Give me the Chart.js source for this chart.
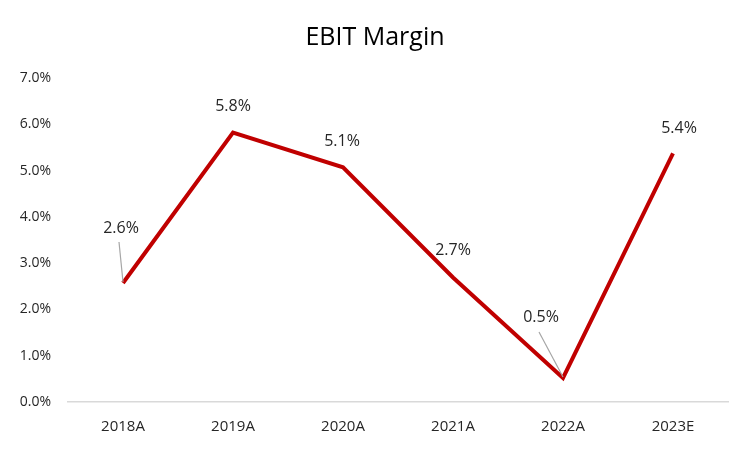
<!DOCTYPE html>
<html>
<head>
<meta charset="utf-8">
<script src="https://cdn.jsdelivr.net/npm/chart.js@4/dist/chart.umd.min.js"></script>
<style>
  body { margin: 0; background: #fff; }
  #wrap { width: 750px; height: 450px; }
</style>
</head>
<body>
<div id="wrap"><canvas id="chart" width="750" height="450"></canvas></div>
<script>
var years = ['2018A', '2019A', '2020A', '2021A', '2022A', '2023E'];
var margins = [0.0257, 0.0582, 0.0507, 0.0269, 0.0052, 0.0537];
var marginLabels = ['2.6%', '5.8%', '5.1%', '2.7%', '0.5%', '5.4%'];
var yTicks = [0, 0.01, 0.02, 0.03, 0.04, 0.05, 0.06, 0.07];

// label placement relative to each point (px), and whether to draw a leader line
var labelShift = [[-2, -55, true], [0, -26, false], [-1, -26, false], [0, -27, false], [-22, -60, true], [6, -25, false]];

var font = '"Open Sans", sans-serif';

var pointLabels = {
  id: 'pointLabels',
  afterDatasetsDraw: function(chart) {
    var ctx = chart.ctx;
    var meta = chart.getDatasetMeta(0);
    ctx.save();
    meta.data.forEach(function(pt, i) {
      var s = labelShift[i];
      var lx = pt.x + s[0], ly = pt.y + s[1];
      if (s[2]) {
        ctx.strokeStyle = '#a6a6a6';
        ctx.lineWidth = 1.2;
        ctx.beginPath();
        ctx.moveTo(lx - 2, ly + 14);
        ctx.lineTo(pt.x, pt.y - 1);
        ctx.stroke();
      }
      ctx.fillStyle = '#262626';
      ctx.font = '16px ' + font;
      ctx.textAlign = 'center';
      ctx.textBaseline = 'middle';
      ctx.fillText(marginLabels[i], lx, ly);
    });
    ctx.restore();
  }
};

var ctx = document.getElementById('chart');
var myChart = new Chart(ctx, {
  type: 'line',
  data: {
    labels: years,
    datasets: [{
      label: 'EBIT Margin',
      data: margins,
      borderColor: '#c00000',
      borderWidth: 4,
      pointRadius: 0,
      tension: 0,
      borderJoinStyle: 'miter'
    }]
  },
  options: {
    responsive: false,
    animation: false,
    layout: { padding: 0 },
    plugins: {
      legend: { display: false },
      tooltip: { enabled: false },
      title: {
        display: true,
        text: 'EBIT Margin',
        color: '#000',
        font: { family: font, size: 25, weight: 'normal' },
        padding: { top: 23, bottom: 25 }
      }
    },
    scales: {
      x: {
        offset: true,
        grid: { display: false, drawTicks: false, offset: true },
        border: { display: true, color: '#d9d9d9', width: 1.5 },
        ticks: { color: '#262626', font: { family: font, size: 15 }, padding: 16 },
        afterFit: function(scale) { scale.height = 48; }
      },
      y: {
        min: 0,
        max: 0.07,
        afterBuildTicks: function(scale) {
          scale.ticks = yTicks.map(function(v) { return { value: v }; });
        },
        grid: { display: false, drawTicks: false },
        border: { display: false },
        ticks: {
          color: '#262626',
          font: { family: font, size: 14 },
          padding: 17,
          callback: function(v) { return (v * 100).toFixed(1) + '%'; }
        },
        afterFit: function(scale) { scale.width = 68; }
      },
      // empty right-hand strip so the title stays centred on the page
      yRight: {
        position: 'right',
        min: 0,
        max: 0.07,
        grid: { display: false, drawTicks: false },
        border: { display: false },
        ticks: { display: false },
        afterFit: function(scale) { scale.width = 22; }
      }
    }
  },
  plugins: [pointLabels]
});
</script>
</body>
</html>
